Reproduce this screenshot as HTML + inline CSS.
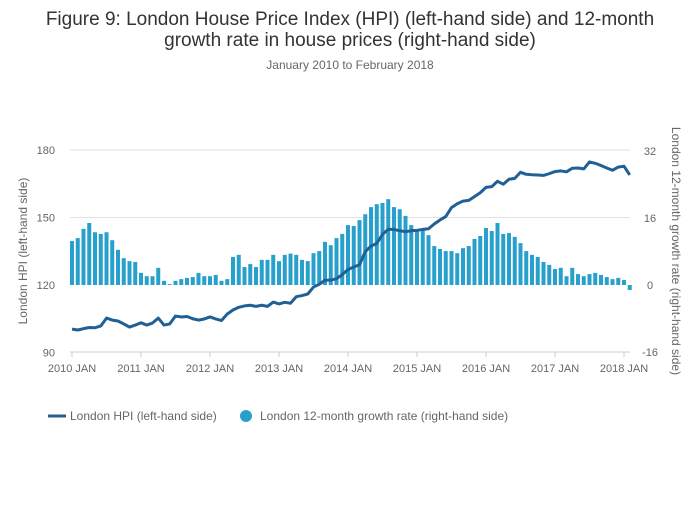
<!DOCTYPE html>
<html><head><meta charset="utf-8"><style>
body{margin:0;background:#fff;font-family:"Liberation Sans",sans-serif;}
svg text{font-family:"Liberation Sans",sans-serif;}
</style></head><body>
<svg id="c" width="700" height="502" xmlns="http://www.w3.org/2000/svg">
<text x="350" y="25" text-anchor="middle" font-size="19" fill="#333">Figure 9: London House Price Index (HPI) (left-hand side) and 12-month</text>
<text x="350" y="46" text-anchor="middle" font-size="19" fill="#333">growth rate in house prices (right-hand side)</text>
<text x="350" y="69" text-anchor="middle" font-size="12" fill="#666">January 2010 to February 2018</text>
<g id="grid"></g><g id="bars"></g><g id="line"></g><g id="axes"></g>
<text transform="translate(27,251) rotate(-90)" text-anchor="middle" font-size="12" fill="#666">London HPI (left-hand side)</text>
<text transform="translate(672,251) rotate(90)" text-anchor="middle" font-size="12" fill="#666">London 12-month growth rate (right-hand side)</text>
<g>
<g><line x1="48" y1="416" x2="66" y2="416" stroke="#206095" stroke-width="3"/><text x="70" y="420" font-size="12" fill="#666">London HPI (left-hand side)</text></g>
<g><circle cx="246" cy="416" r="6" fill="#27a0cc"/><text x="260" y="420" font-size="12" fill="#666">London 12-month growth rate (right-hand side)</text></g>
</g>
</svg>
<script>
const hpi=[100.4,100.0,100.6,101.1,101.0,101.8,105.3,104.4,104.0,102.7,101.3,102.2,103.2,102.2,103.1,105.3,102.2,102.7,106.2,105.8,106.0,105.0,104.4,104.9,105.8,104.9,104.2,107.1,108.9,110.1,110.7,111.0,110.5,111.0,110.5,112.4,111.6,112.3,111.9,114.8,115.3,116.0,119.1,120.3,122.1,122.2,122.8,124.6,126.9,128.0,129.0,134.8,137.3,138.5,142.5,144.7,144.7,144.1,143.7,144.1,144.3,144.7,145.0,147.1,148.9,150.4,154.4,156.1,157.3,157.6,159.3,161.0,163.4,163.7,166.1,164.8,167.0,167.4,170.1,169.2,169.0,168.9,168.7,169.5,170.4,170.7,170.3,171.9,172.0,171.6,174.7,174.1,173.1,172.0,171.0,172.4,172.8,168.9];
const growth=[10.5,11.2,13.4,14.8,12.6,12.2,12.6,10.7,8.4,6.4,5.7,5.5,2.9,2.1,2.1,4.1,1.0,0.2,1.0,1.4,1.7,1.9,2.9,2.1,2.1,2.4,1.0,1.4,6.7,7.2,4.3,5.0,4.3,6.0,6.0,7.2,5.7,7.2,7.5,7.2,6.0,5.7,7.6,8.1,10.3,9.5,11.2,12.2,14.3,14.1,15.5,16.9,18.6,19.3,19.6,20.5,18.6,18.1,16.5,14.3,13.1,13.1,11.9,9.3,8.6,8.1,8.1,7.6,8.8,9.3,11.0,11.7,13.6,12.9,14.8,12.2,12.4,11.5,10.0,8.1,7.2,6.7,5.5,4.8,3.8,4.1,2.1,4.1,2.6,2.1,2.6,2.9,2.4,1.9,1.4,1.7,1.2,-1.2];
const leftTicks=[90,120,150,180];
const rightTicks=[-16,0,16,32];
const xLabels=["2010 JAN","2011 JAN","2012 JAN","2013 JAN","2014 JAN","2015 JAN","2016 JAN","2017 JAN","2018 JAN"];
const NS="http://www.w3.org/2000/svg";
const xs=i=>72+i*5.75;
const yl=v=>285-(v-120)*2.25;
const yr=v=>285-v*4.1875;
function mk(t,a,p){const e=document.createElementNS(NS,t);for(const k in a)e.setAttribute(k,a[k]);document.getElementById(p).appendChild(e);return e;}
leftTicks.forEach(v=>{
 if(v!==90&&v!==120){const g=mk('line',{x1:70,x2:630,y1:yl(v),y2:yl(v),stroke:'#e2e2e2','stroke-width':1},'grid');
 
 }
 const t=mk('text',{x:55,y:yl(v)+4,'text-anchor':'end','font-size':11,fill:'#666'},'axes');t.textContent=v;
 
 
});
rightTicks.forEach(v=>{
 const t=mk('text',{x:650,y:yr(v)+4,'text-anchor':'middle','font-size':11,fill:'#666'},'axes');t.textContent=v;
 
 
});
growth.forEach((v,i)=>{
 const y0=yr(0),y1=yr(v);
 const b=mk('rect',{x:xs(i)-2,y:Math.min(y0,y1),width:4,height:Math.max(0.5,Math.abs(y1-y0)),fill:'#27a0cc'},'bars');
 
 
});
const p=mk('polyline',{points:hpi.map((v,i)=>xs(i)+','+yl(v)).join(' '),fill:'none',stroke:'#206095','stroke-width':3,'stroke-linejoin':'round'},'line');


const ax=mk('line',{x1:70,x2:630,y1:352,y2:352,stroke:'#ccc','stroke-width':1},'axes');


xLabels.forEach((l,k)=>{
 const x=xs(k*12);
 mk('line',{x1:x,x2:x,y1:352,y2:357,stroke:'#ccc'},'axes');
 const t=mk('text',{x:x,y:372,'text-anchor':'middle','font-size':11,fill:'#666'},'axes');t.textContent=l;
 
 
});
</script>
</body></html>
